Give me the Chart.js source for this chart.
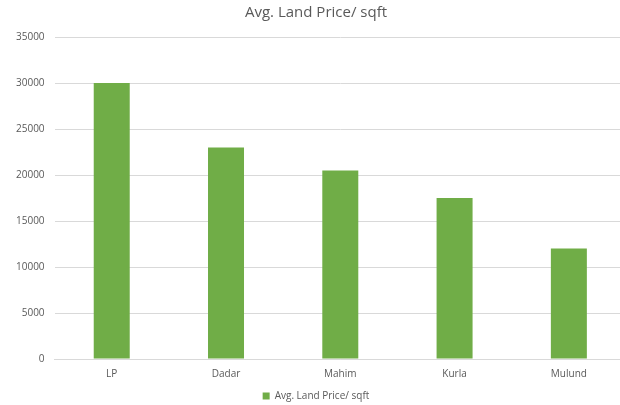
<!DOCTYPE html>
<html><head><meta charset="utf-8">
<script src="https://cdn.jsdelivr.net/npm/chart.js@4"></script>
<style>html,body{margin:0;padding:0;background:#fff;overflow:hidden;width:620px;height:405px}#w{width:626px;height:405px}</style>
</head><body><div id="w"><canvas id="c"></canvas></div>
<script>
const categories = ["LP", "Dadar", "Mahim", "Kurla", "Mulund"];
const seriesName = "Avg. Land Price/ sqft";
const values = [30000, 23000, 20500, 17500, 12000];
const yTicks = [0, 5000, 10000, 15000, 20000, 25000, 30000, 35000];
const font = "'Open Sans', 'Liberation Sans', sans-serif";
new Chart(document.getElementById('c'), {
  type: 'bar',
  data: { labels: categories, datasets: [{ label: seriesName, data: values, backgroundColor: '#70AD47', borderWidth: 0, categoryPercentage: 1, barPercentage: 0.315 }] },
  options: {
    responsive: true, maintainAspectRatio: false, animation: false,
    layout: { padding: { left: 6, right: 0, top: 4, bottom: -6 } },
    plugins: {
      title: { display: true, text: seriesName, color: '#595959', font: { family: font, size: 15, weight: 'normal' }, padding: { top: 0, bottom: 15 } },
      legend: { position: 'bottom', labels: { color: '#595959', font: { family: font, size: 10 }, boxWidth: 7, boxHeight: 7, padding: 5 } },
      tooltip: { enabled: false }
    },
    scales: {
      x: { grid: { display: false }, border: { display: true, color: '#d9d9d9' }, afterFit: s => { s.height += 5; },
           ticks: { color: '#595959', font: { family: font, size: 10 }, padding: 1 } },
      y: { min: 0, max: 35000, afterBuildTicks: s => { s.ticks = yTicks.map(v => ({ value: v })); },
           grid: { color: '#d9d9d9', drawTicks: false }, border: { display: false },
           ticks: { color: '#595959', font: { family: font, size: 10 }, padding: 10, callback: v => String(v) } }
    }
  }
});
</script></body></html>
